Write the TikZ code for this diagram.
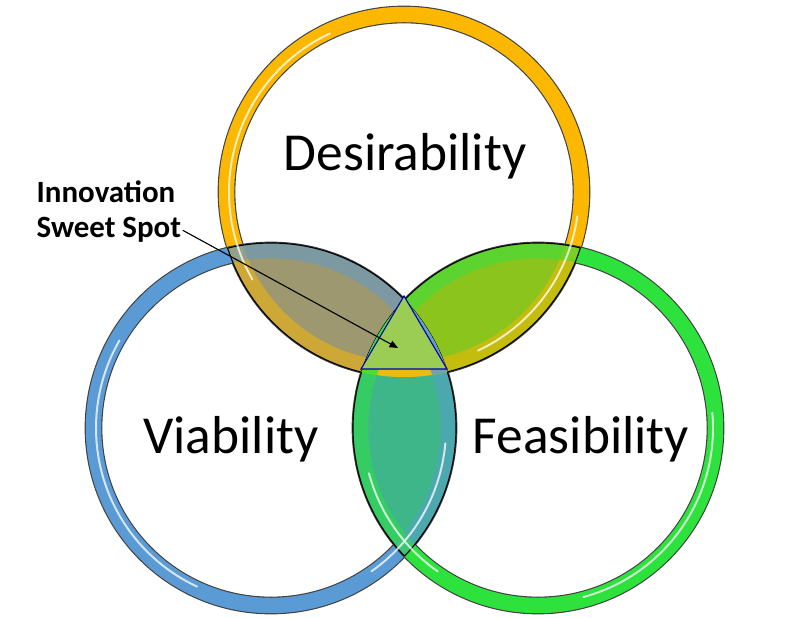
\documentclass[tikz,border=0pt]{standalone}
\usepackage{fontspec}
\setmainfont{Carlito}
\usetikzlibrary{arrows.meta, positioning}
\definecolor{gold}{RGB}{252,184,0}
\definecolor{skyblue}{RGB}{91,155,213}
\definecolor{leaf}{RGB}{46,226,62}
\definecolor{dvmix}{RGB}{158,152,112}
\definecolor{dfmix}{RGB}{140,196,30}
\definecolor{vfmix}{RGB}{62,182,138}
\definecolor{spot}{RGB}{155,205,85}

\begin{document}
\begin{tikzpicture}[x=0.025cm, y=0.025cm,
    ringline/.style={line width=11pt},
    rimline/.style={line width=12.6pt, black!75},
    shine/.style={line width=1.4pt, white, opacity=0.75, line cap=round},
    bigtext/.style={font=\fontsize{38}{40}\selectfont, anchor=base},
    note/.style={font=\fontsize{22}{25}\selectfont\bfseries, anchor=base west, inner sep=1pt}]
  \useasboundingbox (0,0) rectangle (807,617);
  \coordinate (D) at (404,425);
  \coordinate (V) at (271,189);
  \coordinate (F) at (538,189);

  \foreach \c/\col in {D/gold, V/skyblue, F/leaf} {
    \draw[rimline] (\c) circle (177.5);
    \draw[ringline, \col] (\c) circle (177.5);
  }

  \foreach \a/\b/\ca/\cb/\mix in {D/V/gold/skyblue/dvmix, D/F/gold/leaf/dfmix, V/F/skyblue/leaf/vfmix} {
    \begin{scope}
      \clip (\a) circle (185);
      \clip (\b) circle (185);
      \fill[\mix] (\a) circle (185);
      \draw[ringline, \ca, opacity=0.5] (\a) circle (177.5);
      \draw[ringline, \cb, opacity=0.5] (\b) circle (177.5);
    \end{scope}
    \begin{scope}
      \clip (\a) circle (185);
      \draw[line width=0.8pt] (\b) circle (185);
    \end{scope}
    \begin{scope}
      \clip (\b) circle (185);
      \draw[line width=0.8pt] (\a) circle (185);
    \end{scope}
  }

  \begin{scope}
    \clip (D) circle (185);
    \clip (V) circle (185);
    \clip (F) circle (185);
    \fill[spot] (D) circle (185);
    \foreach \c/\col in {D/gold, V/skyblue, F/leaf}
      \draw[ringline, \col, opacity=0.85] (\c) circle (177.5);
  \end{scope}

  \foreach \c/\s/\e in {D/115/210, D/-8/-65, V/150/245, V/-5/-55, F/-75/5, F/195/235}
    \draw[shine] (\c) ++(\s:175) arc[start angle=\s, end angle=\e, radius=175];

  \coordinate (t1) at (404,321);
  \coordinate (t2) at (361,248);
  \coordinate (t3) at (447,248);
  \filldraw[fill=spot, draw=blue!70!black, line width=0.8pt] (t1) -- (t2) -- (t3) -- cycle;

  \node[bigtext] (des) at (405,446) {Desirability};
  \node[bigtext] (via) at (231,163) {Viability};
  \node[bigtext] (fea) at (581,163) {Feasibility};
  \node[note] (innov) at (35,414) {Innovation};
  \node[note] (sweet) at (35,379) {Sweet Spot};
  \coordinate (sweetspot) at (398,269);
  \draw[-{Triangle[length=6pt,width=5pt]}, line width=0.8pt] (sweet.east) -- (sweetspot);
\end{tikzpicture}
\end{document}
